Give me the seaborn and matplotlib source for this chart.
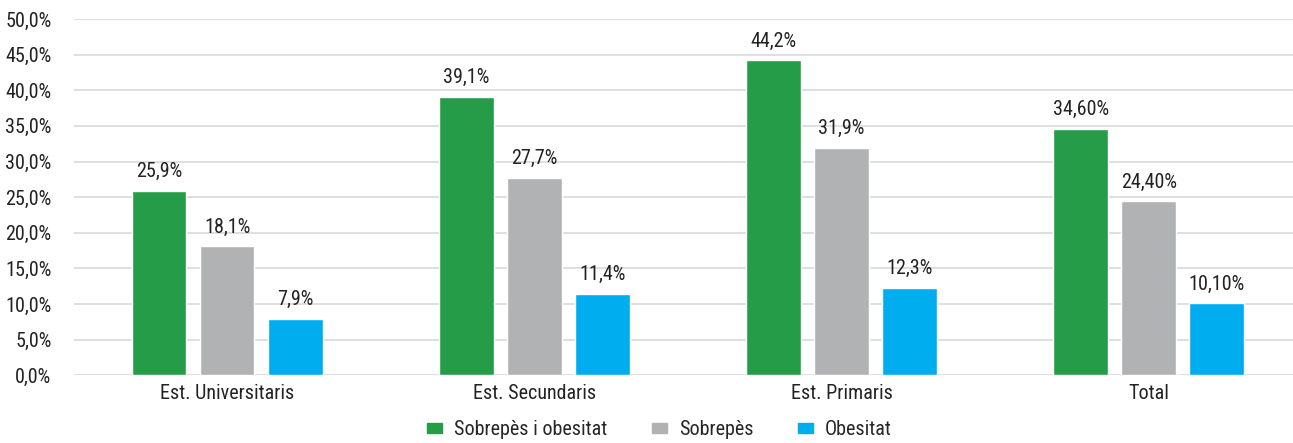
import matplotlib.pyplot as plt
import matplotlib.patches as mpatches
import pandas as pd
import seaborn as sns
from matplotlib import font_manager

CATEGORIES = ["Est. Universitaris", "Est. Secundaris", "Est. Primaris", "Total"]
SERIES = ["Sobrepès i obesitat", "Sobrepès", "Obesitat"]
SOBREPES_OBESITAT = [25.9, 39.1, 44.2, 34.6]
SOBREPES = [18.1, 27.7, 31.9, 24.4]
OBESITAT = [7.9, 11.4, 12.3, 10.1]
LABELS = [["25,9%", "39,1%", "44,2%", "34,60%"],
          ["18,1%", "27,7%", "31,9%", "24,40%"],
          ["7,9%", "11,4%", "12,3%", "10,10%"]]
COLORS = ["#259c48", "#b1b2b4", "#00adee"]


def main():
    df = pd.DataFrame({"cat": CATEGORIES * 3,
                       "serie": [s for s in SERIES for _ in CATEGORIES],
                       "val": SOBREPES_OBESITAT + SOBREPES + OBESITAT})

    sns.set_style("white")
    names = {f.name for f in font_manager.fontManager.ttflist}
    fams = [f for f in ["Roboto Condensed", "DejaVu Sans Condensed",
                        "Liberation Sans Narrow", "Roboto"] if f in names]
    plt.rcParams["font.family"] = fams + ["DejaVu Sans"]
    plt.rcParams["font.stretch"] = "condensed"

    fig = plt.figure(figsize=(12.93, 4.43), dpi=100)
    ax = fig.add_axes([0.057, 0.153, 0.943, 0.804])
    sns.barplot(data=df, x="cat", y="val", hue="serie", order=CATEGORIES,
                hue_order=SERIES, palette=COLORS, width=0.665, gap=0.2,
                saturation=1, legend=False, ax=ax, zorder=3)

    # Value labels above bars
    for cont, labels in zip(ax.containers, LABELS):
        ax.bar_label(cont, labels=labels, padding=7, fontsize=14.5, color="#222222")

    ax.set_ylim(0, 50)
    ax.set_xlim(-0.5, 3.47)
    ax.set_yticks(range(0, 51, 5))
    ax.set_yticklabels([f"{v:.1f}%".replace(".", ",") for v in range(0, 51, 5)])
    ax.grid(axis="y", color="#d9d9dc", lw=1.2, zorder=0)
    ax.set_axisbelow(True)
    for sp in ax.spines.values():
        sp.set_visible(False)
    ax.tick_params(axis="both", length=0, labelsize=14.5, colors="#222222")
    ax.tick_params(axis="y", pad=16)
    ax.tick_params(axis="x", pad=6)
    ax.set(xlabel="", ylabel="")

    handles = [mpatches.Patch(color=c, label=s) for c, s in zip(COLORS, SERIES)]
    fig.legend(handles=handles, loc="lower center", bbox_to_anchor=(0.51, -0.032),
               ncol=3, frameon=False, fontsize=14.5, handlelength=0.75,
               handleheight=0.4, handletextpad=0.6, columnspacing=2.2)

    fig.savefig("out.png", dpi=100)


if __name__ == "__main__":
    main()
